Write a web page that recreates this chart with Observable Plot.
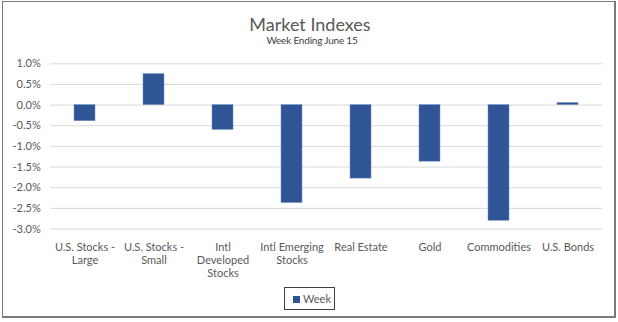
<!DOCTYPE html>
<html>
<head>
<meta charset="utf-8">
<script src="https://cdn.jsdelivr.net/npm/d3@7"></script>
<script src="https://cdn.jsdelivr.net/npm/@observablehq/plot@0.6"></script>
<style>
  html, body { margin: 0; padding: 0; background: #fff; }
  body { width: 618px; height: 322px; position: relative; overflow: hidden; font-family: Lato, "Open Sans", sans-serif; }
  #frame { position: absolute; left: 2px; top: 1px; width: 611px; height: 314px; border-left: 1px solid #7a7a7a; border-top: 1px solid #7a7a7a; border-right: 2px solid #7a7a7a; border-bottom: 2px solid #7a7a7a; }
  #title { position: absolute; left: 0; width: 620px; top: 14px; text-align: center; font-size: 18px; line-height: 20px; color: #595959; }
  #subtitle { position: absolute; left: 0; width: 624px; top: 34px; text-align: center; font-size: 10px; line-height: 12px; color: #404040; letter-spacing: -0.2px; }
  #chart { position: absolute; left: 0; top: 0; }
  #legend { position: absolute; left: 284px; top: 287px; width: 49px; height: 21px; border: 1px solid #404040; font-size: 11px; color: #595959; }
  #legend .sw { position: absolute; left: 8px; top: 8px; width: 7px; height: 7px; background: #2f5597; }
  #legend .lb { position: absolute; left: 18px; top: 4px; line-height: 13px; }
</style>
</head>
<body>
<div id="frame"></div>
<div id="chart"></div>
<div id="title">Market Indexes</div>
<div id="subtitle">Week Ending June 15</div>
<div id="legend"><div class="sw"></div><div class="lb">Week</div></div>
<script>
const categories = ["U.S. Stocks - Large", "U.S. Stocks - Small", "Intl Developed Stocks", "Intl Emerging Stocks", "Real Estate", "Gold", "Commodities", "U.S. Bonds"];
const categoryLabels = ["U.S. Stocks -\nLarge", "U.S. Stocks -\nSmall", "Intl\nDeveloped\nStocks", "Intl Emerging\nStocks", "Real Estate", "Gold", "Commodities", "U.S. Bonds"];
const weekValues = [-0.39, 0.75, -0.60, -2.37, -1.78, -1.37, -2.80, 0.05];
const yTicks = [1.0, 0.5, 0.0, -0.5, -1.0, -1.5, -2.0, -2.5, -3.0];
const seriesName = "Week";

const data = categories.map((c, i) => ({category: c, value: weekValues[i]}));
const labelOf = new Map(categories.map((c, i) => [c, categoryLabels[i]]));

const chart = Plot.plot({
  width: 618,
  height: 290,
  marginTop: 63.3,
  marginBottom: 61.5,
  marginLeft: 50.3,
  marginRight: 15.7,
  style: {fontFamily: "Lato, 'Open Sans', sans-serif", fontSize: "11px", color: "#595959", background: "transparent"},
  x: {domain: categories, paddingInner: 0.7, paddingOuter: 0.35},
  y: {domain: [-3, 1]},
  marks: [
    Plot.ruleY(yTicks, {stroke: "#d9d9d9", strokeWidth: 1}),
    Plot.barY(data, {x: "category", y: "value", fill: "#2f5597", stroke: "#6f8fc4", strokeWidth: 0.5}),
    Plot.axisY({ticks: yTicks, tickSize: 0, tickPadding: 10, tickFormat: d => d.toFixed(1) + "%", label: null, fill: "#595959"}),
    Plot.axisX({tickSize: 0, tickPadding: 13, tickFormat: d => labelOf.get(d), lineHeight: 1.18, label: null, fill: "#595959"})
  ]
});
document.getElementById("chart").appendChild(chart);
document.querySelector("#legend .lb").textContent = seriesName;
</script>
</body>
</html>
